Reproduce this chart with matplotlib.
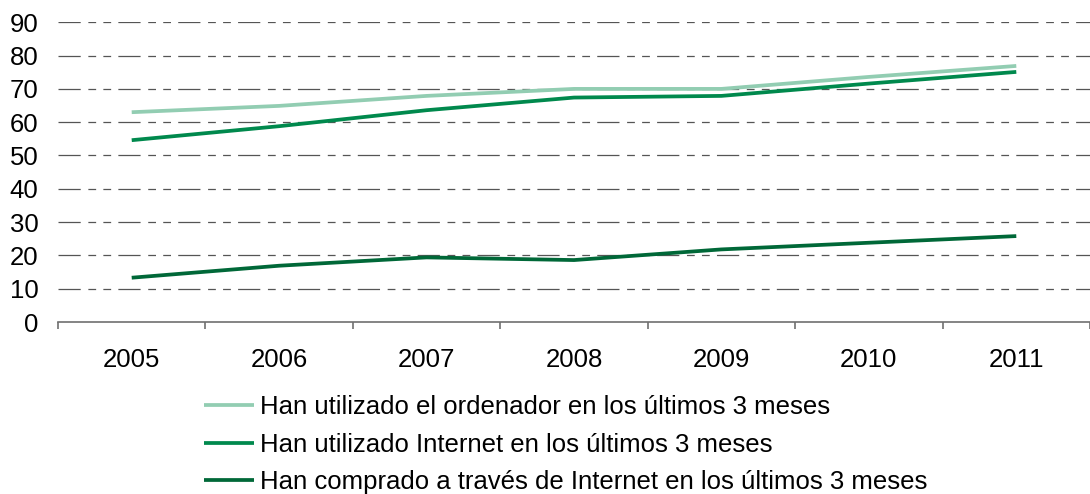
import numpy as np
import matplotlib
matplotlib.use('Agg')
import matplotlib.pyplot as plt

plt.rcParams['font.family'] = ['Liberation Sans', 'DejaVu Sans']
plt.rcParams['lines.scale_dashes'] = False

# datos
years = ['2005', '2006', '2007', '2008', '2009', '2010', '2011']
ordenador = [63.0, 64.9, 67.9, 70.0, 70.0, 73.6, 76.9]
internet = [54.6, 58.8, 63.6, 67.4, 67.9, 71.6, 75.1]
compra = [13.3, 16.9, 19.4, 18.6, 21.8, 23.8, 25.8]

labels = ['Han utilizado el ordenador en los últimos 3 meses',
          'Han utilizado Internet en los últimos 3 meses',
          'Han comprado a través de Internet en los últimos 3 meses']
colores = ['#92cdb2', '#00894d', '#006838']

fig = plt.figure(figsize=(10.9, 4.94), dpi=100)
ax = fig.add_axes([58 / 1090, 1 - 322 / 494, 1 - 58 / 1090, (322 - 22.3) / 494])

x = np.arange(len(years))
for serie, lab, col in zip([ordenador, internet, compra], labels, colores):
    ax.plot(x, serie, color=col, linewidth=2.7, label=lab, solid_capstyle='butt')

ax.set_xlim(-0.5, len(years) - 0.5)
ax.set_ylim(0, 90)
ax.set_yticks(np.arange(0, 91, 10))

# lineas de cuadricula con guiones largo-corto-corto
for v in np.arange(10, 91, 10):
    ax.axhline(v, color='#555555', linewidth=0.9,
               linestyle=(0, (16, 5.5, 5.6, 5.2, 5.6, 5.2)), zorder=0)

ax.set_xticks(x)
ax.set_xticklabels(years)
ax.set_xticks(np.arange(-0.5, len(years), 1), minor=True)
ax.tick_params(axis='x', which='major', length=0, pad=19, labelsize=18.5)
ax.tick_params(axis='x', which='minor', length=5, width=1.2, color='#707070', direction='out')
ax.tick_params(axis='y', length=0, pad=14, labelsize=18.5)

for s in ['top', 'right', 'left']:
    ax.spines[s].set_visible(False)
ax.spines['bottom'].set_color('#707070')
ax.spines['bottom'].set_linewidth(1.2)

handles, labs = ax.get_legend_handles_labels()
fig.legend(handles, labs, loc='upper left', bbox_to_anchor=(204 / 1090, 1 - 395 / 494),
           frameon=False, fontsize=18.5, handlelength=1.95, handletextpad=0.22,
           labelspacing=0.53, borderpad=0, borderaxespad=0)

fig.savefig('out.png', dpi=100)
